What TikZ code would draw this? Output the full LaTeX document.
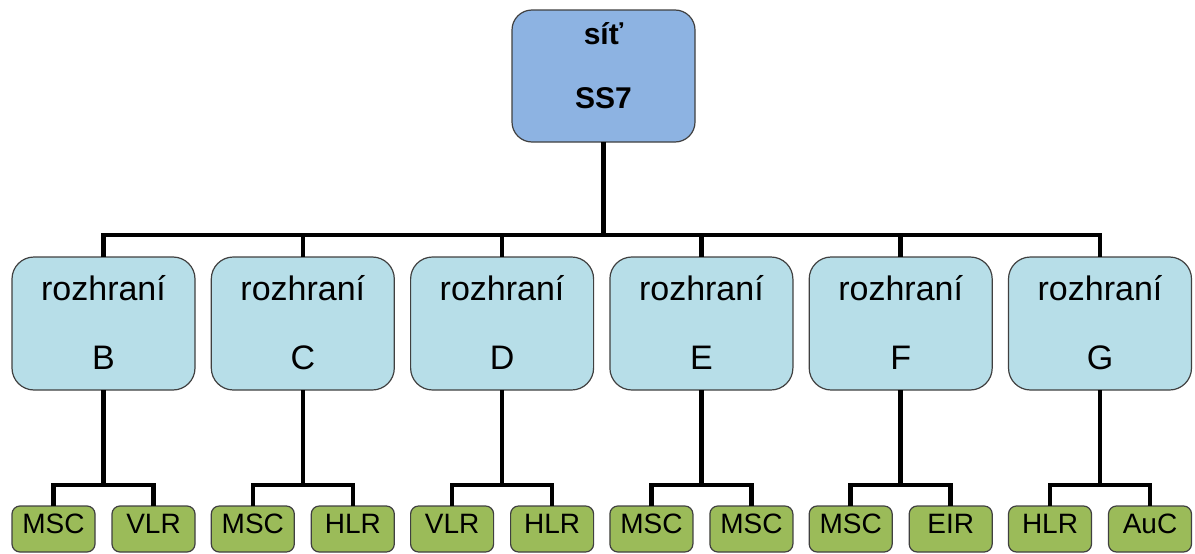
\documentclass[tikz,border=0pt]{standalone}
\usepackage{fontspec}
\setmainfont{Liberation Sans}
\definecolor{netblue}{HTML}{8DB3E2}
\definecolor{ifcyan}{HTML}{B7DEE8}
\definecolor{elgreen}{HTML}{9BBB59}
\definecolor{edgegray}{HTML}{404040}
\begin{document}
\begin{tikzpicture}[x=1pt,y=-1pt,
  box/.style={draw=edgegray,line width=1.2pt,inner sep=0pt,outer sep=0pt},
  netbox/.style={box,fill=netblue,minimum width=183pt,minimum height=132pt,rounded corners=20pt},
  ifbox/.style={box,fill=ifcyan,minimum width=183pt,minimum height=133pt,rounded corners=22pt},
  elbox/.style={box,fill=elgreen,minimum width=83pt,minimum height=46pt,rounded corners=8pt},
  nettext/.style={anchor=base,inner sep=0pt,font=\fontsize{30}{30}\selectfont\bfseries},
  iftext/.style={anchor=base,inner sep=0pt,font=\fontsize{34}{34}\selectfont},
  eltext/.style={anchor=base,inner sep=0pt,font=\fontsize{28}{28}\selectfont},
  wire/.style={line width=4.6pt,black}]
\useasboundingbox (0,0) rectangle (1195,554);

% network node
\node[netbox] (net) at (603.5,76) {};
\node[nettext] (netA) at (603.5,44.5) {síť};
\node[nettext] (netB) at (603.5,108.5) {SS7};

% interfaces and the two elements attached to each
\foreach \i/\l/\a/\b in {0/B/MSC/VLR,1/C/MSC/HLR,2/D/VLR/HLR,3/E/MSC/MSC,4/F/MSC/EIR,5/G/HLR/AuC}{
  \pgfmathsetmacro{\cx}{103.5+199.3*\i}
  \node[ifbox] (if\i) at (\cx,323.5) {};
  \node[iftext] (ifA\i) at (\cx,300) {rozhraní};
  \node[iftext] (ifB\i) at (\cx,369) {\l};
  \node[elbox] (elA\i) at (\cx-50,529) {};
  \node[elbox] (elB\i) at (\cx+50,529) {};
  \node[eltext] (elAt\i) at (\cx-50,533) {\a};
  \node[eltext] (elBt\i) at (\cx+50,533) {\b};
  \coordinate (bus\i) at (\cx,485);
  \draw[wire] (if\i.south) -- (bus\i);
  \draw[wire] (elA\i.north) |- (bus\i) -| (elB\i.north);
}

% main bus from the network to the interfaces
\coordinate (topbus) at (603.5,235);
\draw[wire] (net.south) -- (topbus);
\draw[wire] (if0.north) |- (topbus) -| (if5.north);
\foreach \i in {1,...,4}{
  \draw[wire] (if\i.north) -- (if\i.north |- topbus);
}
\end{tikzpicture}
\end{document}
